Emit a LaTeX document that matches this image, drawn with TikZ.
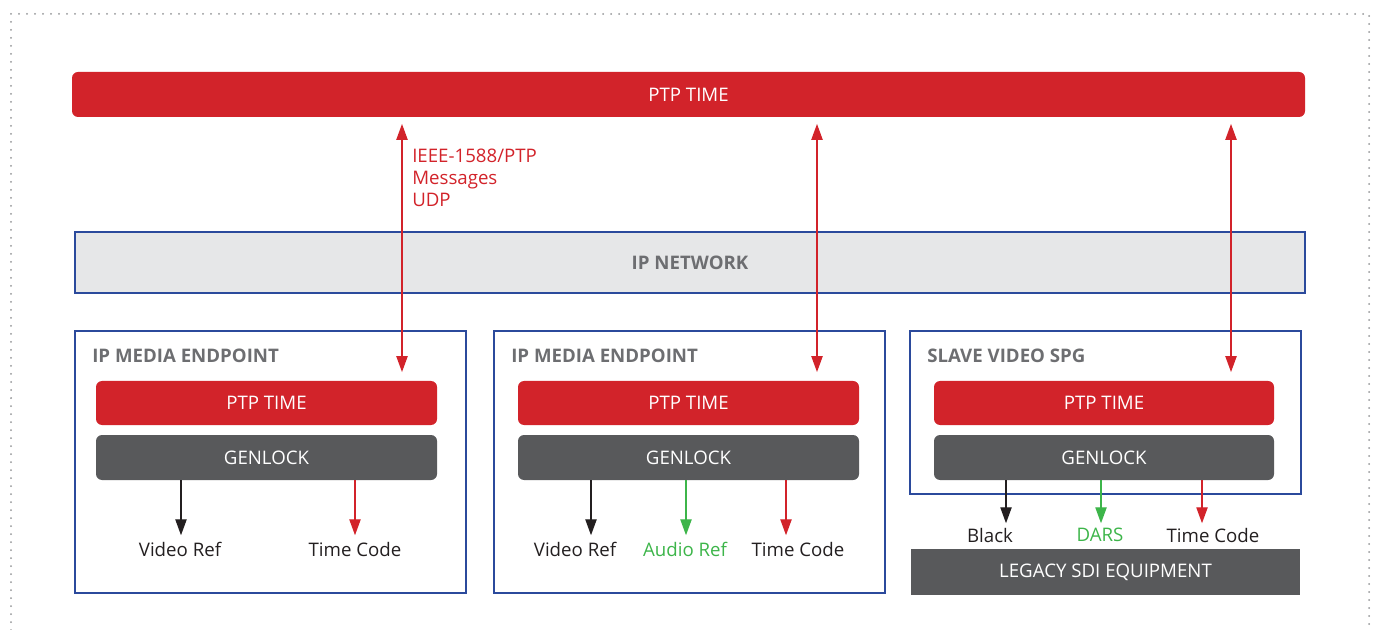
\documentclass[tikz,border=0pt]{standalone}
\usepackage{fontspec}
\setmainfont{Open Sans}
\usetikzlibrary{arrows.meta}
\definecolor{ptpred}{HTML}{D2232A}
\definecolor{dgray}{HTML}{58595B}
\definecolor{lgray}{HTML}{E6E7E8}
\definecolor{bblue}{HTML}{2B4A9C}
\definecolor{tgray}{HTML}{6D6E71}
\definecolor{dotgray}{HTML}{939598}
\definecolor{agreen}{HTML}{3DB54A}
\definecolor{tblack}{HTML}{231F20}
\tikzset{
  redbar/.style={fill=ptpred, rounded corners=4.5pt, text=white, inner sep=0pt, font=\fontsize{14}{16}\selectfont},
  graybar/.style={fill=dgray, rounded corners=4.5pt, text=white, inner sep=0pt, font=\fontsize{14}{16}\selectfont},
  bluebox/.style={draw=bblue, line width=1.5pt, inner sep=0pt},
  boxtitle/.style={text=tgray, font=\bfseries\fontsize{14}{16}\selectfont, inner sep=0pt, anchor=west},
  outlabel/.style={text=tblack, font=\fontsize{14}{16}\selectfont, inner sep=1pt},
  sig/.style={line width=1pt, -{Triangle[length=12pt,width=8.5pt]}},
  bidir/.style={line width=1pt, draw=ptpred, {Triangle[length=12pt,width=8.5pt]}-{Triangle[length=12pt,width=8.5pt]}, shorten <=5pt, shorten >=6.5pt},
}
\begin{document}
\begin{tikzpicture}[x=0.75pt, y=-0.75pt]
\useasboundingbox (0,0) rectangle (1376,630);
% dotted frame
\draw[dotgray, line width=1.5pt, line cap=round, dash pattern=on 0pt off 6pt] (11,630) -- (11,14) -- (1369,14) -- (1369,630);

% top PTP bar
\node[redbar, minimum width=924.75pt, minimum height=33.75pt] (top) at (688.5,94.5) {\raisebox{-1pt}{PTP TIME}};

% IP network
\node[bluebox, fill=lgray, minimum width=922.5pt, minimum height=45.75pt, text=tgray, font=\bfseries\fontsize{14}{16}\selectfont] (net) at (690,262.5) {\raisebox{-1pt}{IP NETWORK}};

% endpoint boxes
\node[bluebox, minimum width=293.25pt, minimum height=196.5pt] (ep1) at (270.5,462) {};
\node[bluebox, minimum width=293.25pt, minimum height=196.5pt] (ep2) at (689.5,462) {};
\node[bluebox, minimum width=293.25pt, minimum height=122.25pt] (spg) at (1105.5,412.5) {};

\node[boxtitle] (t1) at (92,356) {IP MEDIA ENDPOINT};
\node[boxtitle] (t2) at (511,356) {IP MEDIA ENDPOINT};
\node[boxtitle] (t3) at (927,356) {SLAVE VIDEO SPG};

% inner bars
\node[redbar, minimum width=255.75pt, minimum height=33pt] (p1) at (266.5,403) {\raisebox{-1pt}{PTP TIME}};
\node[graybar, minimum width=255.75pt, minimum height=33.75pt] (g1) at (266.5,457.5) {\raisebox{-1pt}{GENLOCK}};
\node[redbar, minimum width=255.75pt, minimum height=33pt] (p2) at (688.5,403) {\raisebox{-1pt}{PTP TIME}};
\node[graybar, minimum width=255.75pt, minimum height=33.75pt] (g2) at (688.5,457.5) {\raisebox{-1pt}{GENLOCK}};
\node[redbar, minimum width=255pt, minimum height=33pt] (p3) at (1104,403) {\raisebox{-1pt}{PTP TIME}};
\node[graybar, minimum width=255pt, minimum height=33.75pt] (g3) at (1104,457.5) {\raisebox{-1pt}{GENLOCK}};

% legacy
\node[fill=dgray, text=white, inner sep=0pt, minimum width=291.75pt, minimum height=34.5pt, font=\fontsize{14}{16}\selectfont] (leg) at (1105.5,572) {\raisebox{-1pt}{LEGACY SDI EQUIPMENT}};

% PTP message arrows
\coordinate (a1) at (402,0);
\coordinate (a2) at (817,0);
\coordinate (a3) at (1231,0);
\draw[bidir] (top.south -| a1) -- (p1.north -| a1);
\draw[bidir] (top.south -| a2) -- (p2.north -| a2);
\draw[bidir] (top.south -| a3) -- (p3.north -| a3);

\node[anchor=north west, align=left, text=ptpred, inner sep=0pt, font=\fontsize{14}{16.5}\selectfont] (msg) at (412,149) {IEEE-1588/PTP\\Messages\\UDP};

% outputs endpoint 1
\node[outlabel] (v1) at (180,549) {Video Ref};
\node[outlabel] (c1) at (355,549) {Time Code};
\draw[sig, tblack] (g1.south -| 181,0) -- ++(0,55);
\draw[sig, ptpred] (g1.south -| 355,0) -- ++(0,55);

% outputs endpoint 2
\node[outlabel] (v2) at (575,549) {Video Ref};
\node[outlabel, text=agreen] (ar2) at (685,549) {Audio Ref};
\node[outlabel] (c2) at (798,549) {Time Code};
\draw[sig, tblack] (g2.south -| 591,0) -- ++(0,55);
\draw[sig, agreen] (g2.south -| 686,0) -- ++(0,55);
\draw[sig, ptpred] (g2.south -| 786,0) -- ++(0,55);

% outputs SPG
\node[outlabel] (b3) at (990,535) {Black};
\node[outlabel, text=agreen] (d3) at (1100,535) {DARS};
\node[outlabel] (c3) at (1213,535) {Time Code};
\draw[sig, tblack] (g3.south -| 1006,0) -- ++(0,43);
\draw[sig, agreen] (g3.south -| 1101,0) -- ++(0,43);
\draw[sig, ptpred] (g3.south -| 1202,0) -- ++(0,43);
\end{tikzpicture}
\end{document}
